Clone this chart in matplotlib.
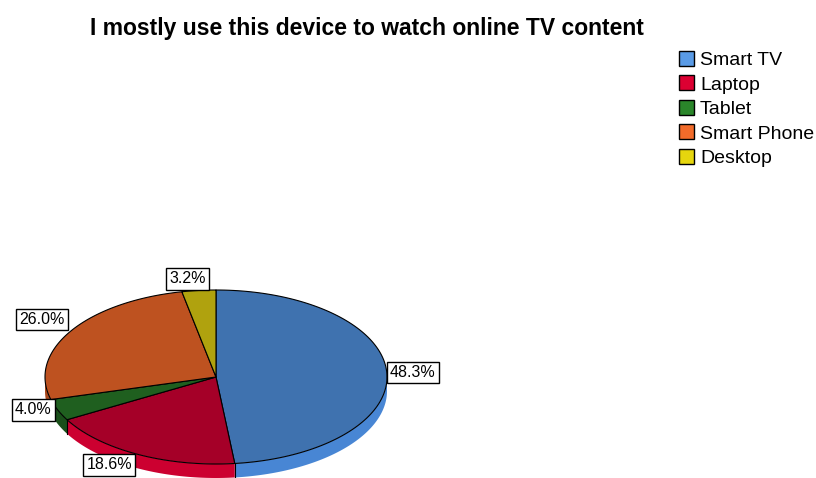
import numpy as np
import matplotlib.pyplot as plt
from matplotlib.patches import Polygon, Patch

plt.rcParams["font.family"] = ["Liberation Sans", "DejaVu Sans"]

title = "I mostly use this device to watch online TV content"
devices = ["Smart TV", "Laptop", "Tablet", "Smart Phone", "Desktop"]
shares = [48.3, 18.6, 4.0, 26.0, 3.2]

# legend swatches are the bright base colours, the pie top is shaded darker
legend_colors = ["#5A9BE6", "#DC0032", "#2A862A", "#F26B2A", "#E6D60E"]
top_colors = ["#3F72AF", "#A50028", "#1F5F1F", "#BE5220", "#B0A20E"]
side_colors = ["#4886D4", "#CC0030", "#1A4F1A", "#A9481C", "#9A8E0C"]

# pie geometry in pixel units
cx, cy = 216, 377
rx, ry = 171, 87
depth = 14

fig = plt.figure(figsize=(8.16, 4.78), dpi=100)
ax = fig.add_axes([0, 0, 1, 1])
ax.set_xlim(0, 816)
ax.set_ylim(478, 0)
ax.axis("off")


def arc(t0, t1, n=120):
    # angles in degrees, clockwise from 12 o'clock
    t = np.radians(np.linspace(t0, t1, n))
    return cx + rx * np.sin(t), cy - ry * np.cos(t)


bounds = np.concatenate([[0], np.cumsum(shares)]) / sum(shares) * 360

# --- side walls (front half only) ---
for i in range(len(shares)):
    a0, a1 = max(bounds[i], 90), min(bounds[i + 1], 270)
    if a1 <= a0:
        continue
    x, y = arc(a0, a1)
    pts = np.column_stack([np.r_[x, x[::-1]], np.r_[y, y[::-1] + depth]])
    ax.add_patch(Polygon(pts, closed=True, fc=side_colors[i], ec="none", zorder=1))

for b in bounds[1:-1]:
    if 90 < b < 270:
        x, y = arc(b, b, 1)
        ax.plot([x[0], x[0]], [y[0], y[0] + depth], color="black", lw=0.8, zorder=2)

# --- top face ---
for i in range(len(shares)):
    x, y = arc(bounds[i], bounds[i + 1])
    pts = np.column_stack([np.r_[cx, x], np.r_[cy, y]])
    ax.add_patch(Polygon(pts, closed=True, fc=top_colors[i], ec="black",
                         lw=0.8, joinstyle="round", zorder=3))

# --- value labels, pushed just outside the rim ---
for i, v in enumerate(shares):
    mid = np.radians((bounds[i] + bounds[i + 1]) / 2)
    s, c = np.sin(mid), np.cos(mid)
    lx = cx + rx * s
    ly = cy - ry * c
    if s > 0.3:
        ha, lx = "left", lx + 3
    elif s < -0.3:
        ha, lx = "right", lx - 6
    else:
        ha, lx = "center", lx - 11
    if c > 0.4:
        va, ly = "bottom", ly - 4
    elif c < -0.4:
        va, ly = "top", ly + 3
    else:
        va = "center"
    ax.text(lx, ly, f"{v:.1f}%", ha=ha, va=va, fontsize=11.5, zorder=5,
            bbox=dict(boxstyle="square,pad=0.2", fc="white", ec="black", lw=1))

fig.text(367 / 816, 1 - 29 / 478, title, ha="center", va="center",
         fontsize=16.5, fontweight="bold")

handles = [Patch(fc=c, ec="black", lw=1) for c in legend_colors]
fig.legend(handles, devices, loc="upper left", bbox_to_anchor=(679 / 816, 1 - 51 / 478),
           frameon=False, fontsize=14, handlelength=0.78, handleheight=0.78,
           handletextpad=0.3, labelspacing=0.33, borderpad=0, borderaxespad=0)

fig.savefig("out.png", dpi=100)
